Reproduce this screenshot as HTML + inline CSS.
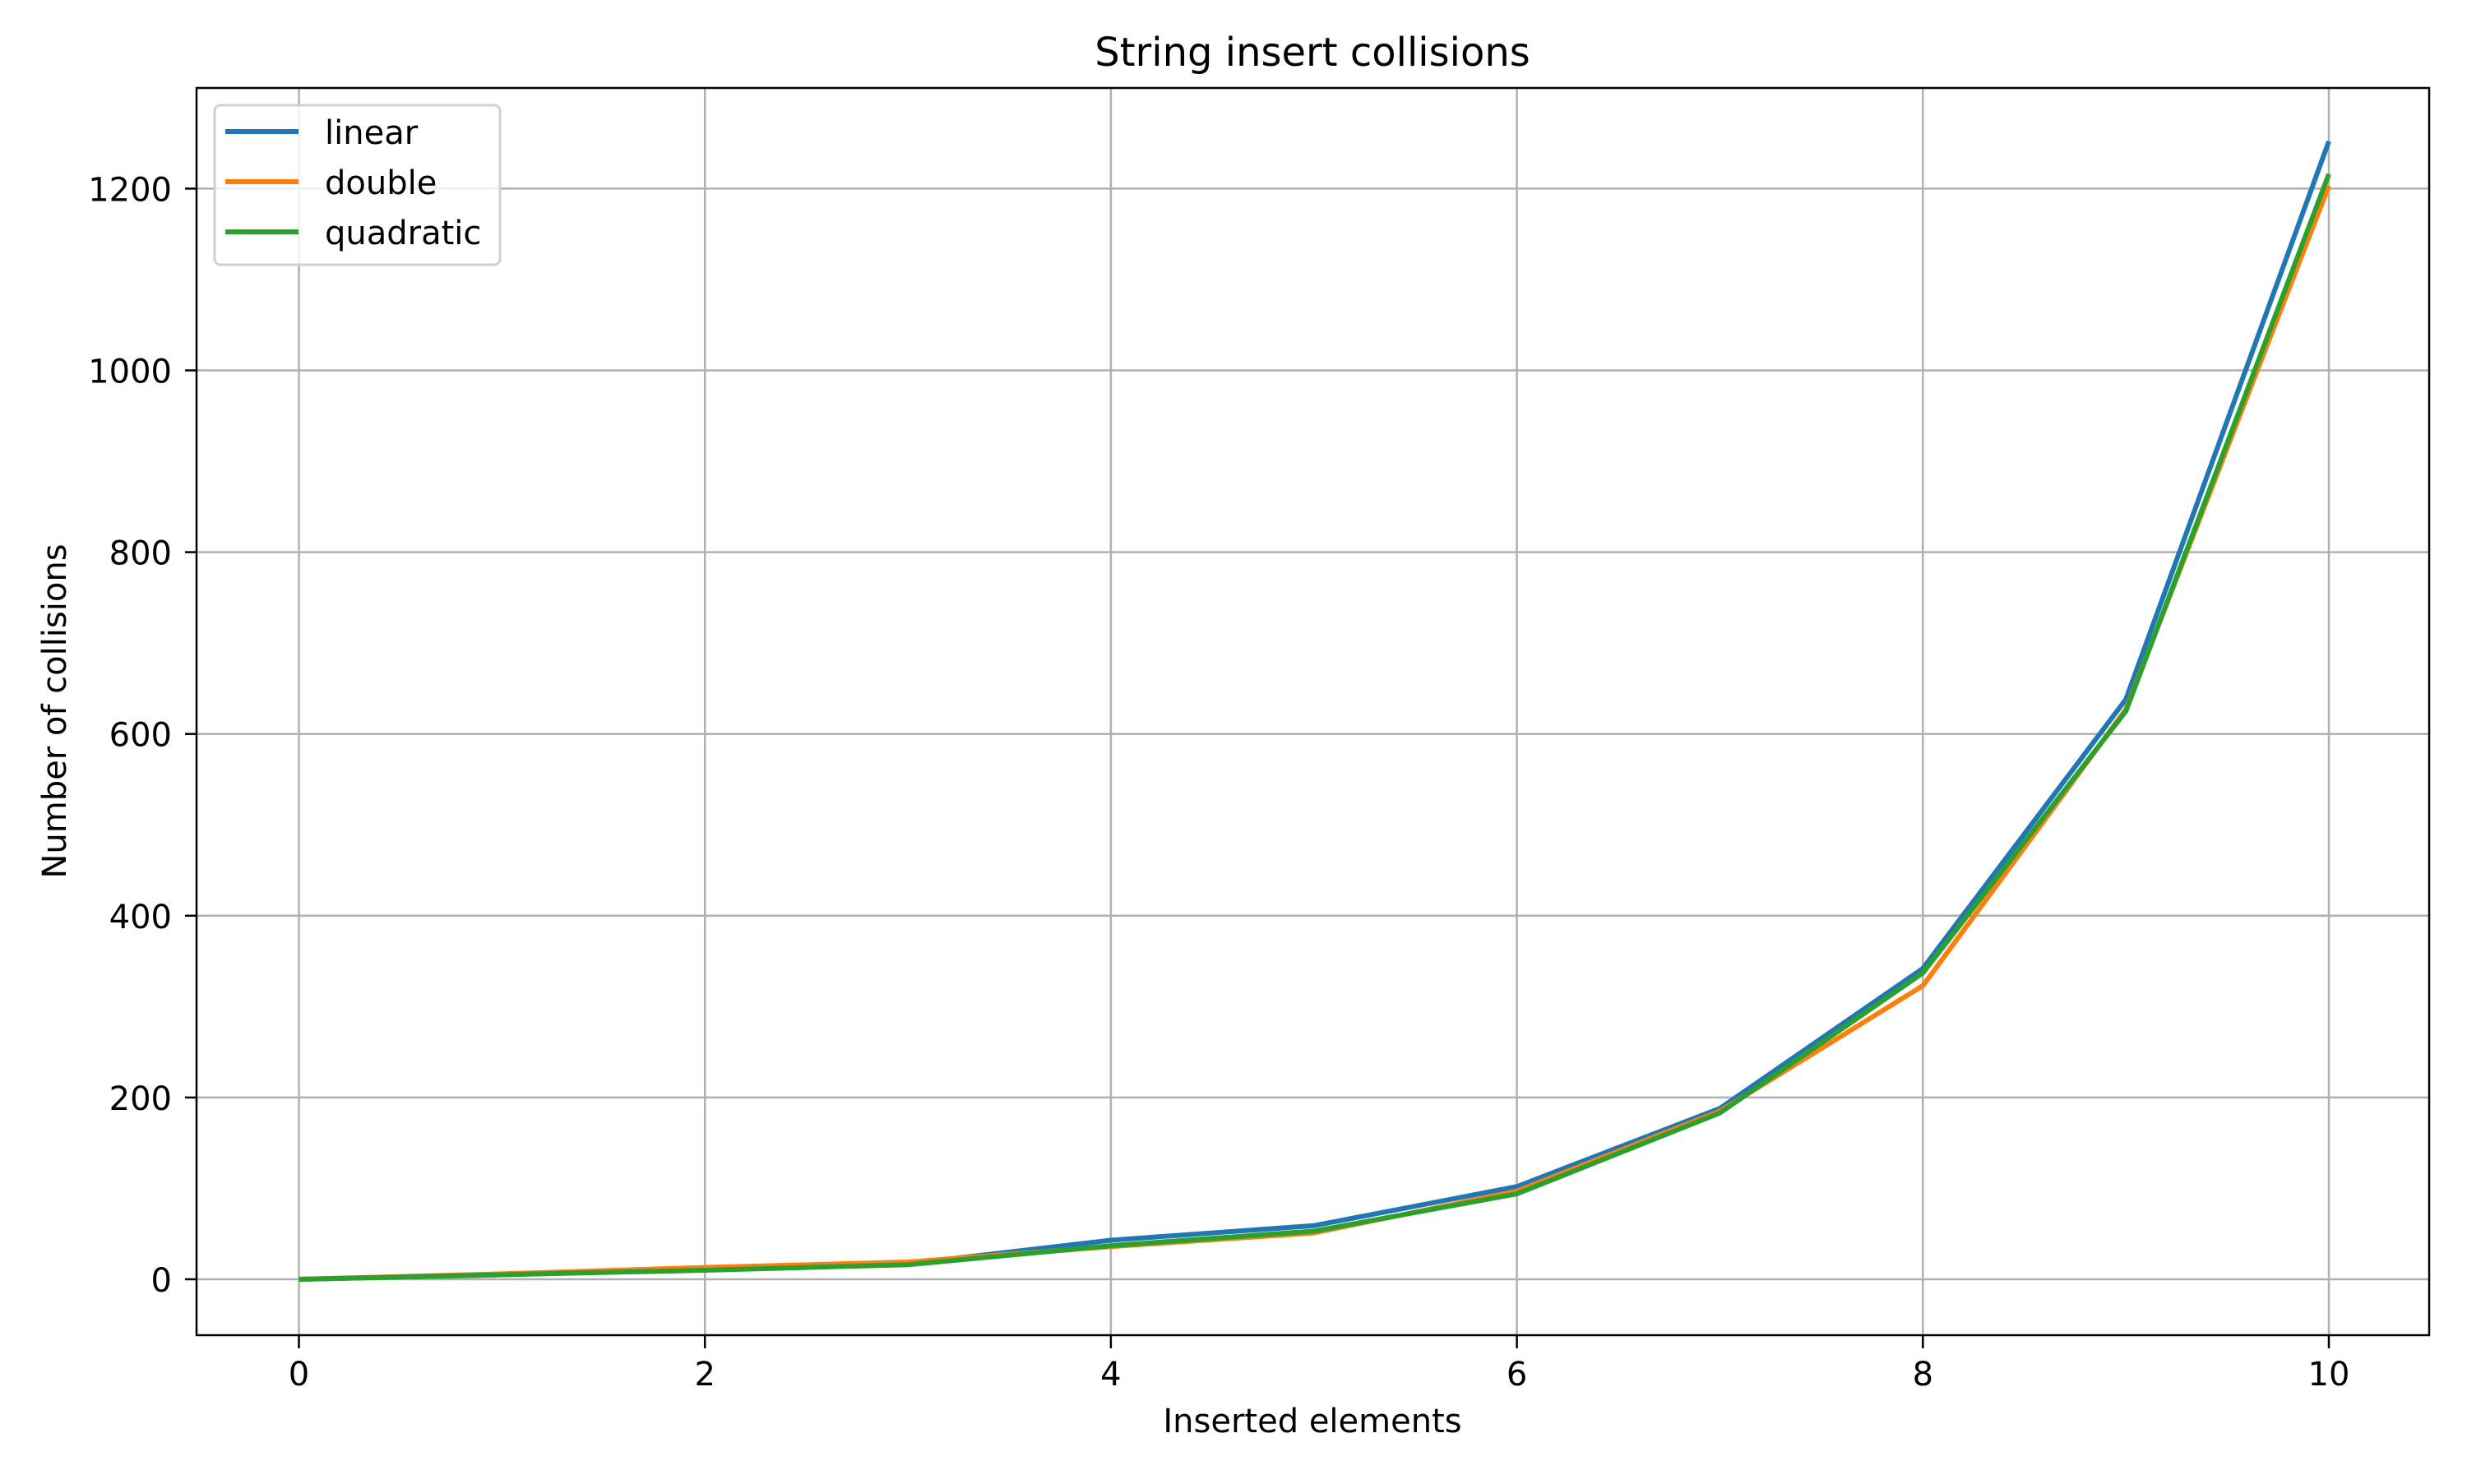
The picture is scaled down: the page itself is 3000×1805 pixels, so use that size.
<!DOCTYPE html>
<html><head><meta charset="utf-8"><style>
body{margin:0;background:#fff;}
svg text{font-family:"DejaVu Sans","Liberation Sans",sans-serif;fill:#000;}
</style></head><body>
<svg id="chart" width="3000" height="1800" xmlns="http://www.w3.org/2000/svg">
<rect width="3000" height="1800" fill="#fff"/>
<g id="grid"></g>
<g id="series"></g>
<rect x="239" y="107" width="2715" height="1517" fill="none" stroke="#000" stroke-width="2.5"/>
<g id="ticks"></g>
<text x="1596" y="80" font-size="48" text-anchor="middle">String insert collisions</text>
<text x="1596" y="1742" font-size="40" text-anchor="middle">Inserted elements</text>
<text transform="translate(80,865) rotate(-90)" font-size="40" text-anchor="middle">Number of collisions</text>
<g>
<rect x="261" y="128" width="347" height="194" rx="7" fill="#fff" fill-opacity="0.8" stroke="#d0d0d0" stroke-width="3"/>
<g id="legend"></g>
</g>
</svg>
<script>
const xValues=[0,1,2,3,4,5,6,7,8,9,10];
const linearVals=[0,5,11,17,43,59,102,188,342,638,1252];
const doubleVals=[0,6,13,19,36,51,97,185,323,627,1203];
const quadraticVals=[0,5,10,16,37,53,94,183,337,625,1216];
const seriesNames=["linear","double","quadratic"];
const seriesColors=["#1f77b4","#ff7f0e","#2ca02c"];
const xTicks=[0,2,4,6,8,10];
const yTicks=[0,200,400,600,800,1000,1200];
const NS="http://www.w3.org/2000/svg";
const sx=v=>363.5+v*246.85;
const sy=v=>1556-v*1.1055;
function mk(t,a,p){const e=document.createElementNS(NS,t);for(const k in a)e.setAttribute(k,a[k]);p.appendChild(e);return e;}
const grid=document.getElementById('grid'),ticks=document.getElementById('ticks');
xTicks.forEach(t=>{
 const g=mk('line',{x1:sx(t),x2:sx(t),y1:107,y2:1624,stroke:'#b0b0b0','stroke-width':2.5},grid);
 
 
 mk('line',{x1:sx(t),x2:sx(t),y1:1624,y2:1640,stroke:'#000','stroke-width':2.5},ticks);
 const l=mk('text',{x:sx(t),y:1685,'font-size':40,'text-anchor':'middle'},ticks);l.textContent=t;
 
 
});
yTicks.forEach(t=>{
 const g=mk('line',{x1:239,x2:2954,y1:sy(t),y2:sy(t),stroke:'#b0b0b0','stroke-width':2.5},grid);
 
 
 mk('line',{x1:225,x2:239,y1:sy(t),y2:sy(t),stroke:'#000','stroke-width':2.5},ticks);
 const l=mk('text',{x:209,y:sy(t)+15,'font-size':40,'text-anchor':'end'},ticks);l.textContent=t;
 
 
});
const all=[linearVals,doubleVals,quadraticVals];
const sg=document.getElementById('series'),lg=document.getElementById('legend');
all.forEach((vals,i)=>{
 const p=mk('polyline',{points:vals.map((v,j)=>sx(xValues[j])+','+sy(v)).join(' '),fill:'none',stroke:seriesColors[i],'stroke-width':6,'stroke-linejoin':'round'},sg);
 
 
 const y=160+i*61;
 const ll=mk('line',{x1:274,x2:363,y1:y,y2:y,stroke:seriesColors[i],'stroke-width':6},lg);
 
 
 const tx=mk('text',{x:395,y:y+15,'font-size':40},lg);tx.textContent=seriesNames[i];
 
 
});
</script>
</body></html>
